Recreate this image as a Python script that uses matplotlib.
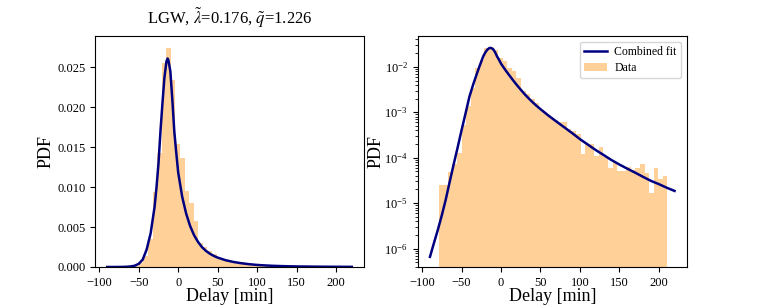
import numpy as np
import matplotlib
matplotlib.use("Agg")
import matplotlib.pyplot as plt

plt.rcParams['font.family'] = ['Liberation Serif', 'DejaVu Serif']
plt.rcParams['mathtext.fontset'] = 'stix'

# histogram: bin edges (min) and density values
bin_edges = np.linspace(-79, 211, 51)
hist_density = [
    2.48e-5, 2.48e-5, 4.9e-5, 7.4e-5, 1.28e-4, 5.2e-4, 1.4e-3, 3.5e-3, 9.4e-3, 1.43e-2,
    2.55e-2, 2.74e-2, 2.34e-2, 1.54e-2, 1.36e-2, 9.5e-3, 8.0e-3, 5.7e-3, 3.0e-3, 2.5e-3,
    2.0e-3, 1.6e-3, 1.15e-3, 9.6e-4, 8.0e-4, 6.8e-4, 6.0e-4, 6.1e-4, 4.2e-4, 3.9e-4,
    3.3e-4, 1.23e-4, 2.0e-4, 2.0e-4, 1.1e-4, 1.7e-4, 1.03e-4, 6.0e-5, 8.0e-5, 5.0e-5,
    5.0e-5, 6.3e-5, 5.3e-5, 5.8e-5, 7.3e-5, 4.7e-5, 1.65e-5, 5.8e-5, 3.4e-5, 4.0e-5,
]

# combined fit curve
fit_x = [-90, -85, -80, -75, -70, -65, -60, -55, -50, -45, -40, -35, -30, -27.5, -25,
         -22.5, -20, -17.5, -15, -13.5, -12.5, -10, -7.5, -5, -2.5, 0, 5, 10, 15, 20,
         25, 30, 35, 40, 45, 50, 60, 70, 80, 90, 100, 110, 120, 130, 140, 150, 160,
         170, 180, 190, 200, 210, 220]
fit_y = [6.6e-7, 1.32e-6, 2.6e-6, 5.4e-6, 1.2e-5, 2.95e-5, 7.1e-5, 1.66e-4, 4.0e-4,
         9.3e-4, 2.2e-3, 4.2e-3, 7.5e-3, 1.0e-2, 1.3e-2,
         1.7e-2, 2.05e-2, 2.37e-2, 2.57e-2, 2.61e-2, 2.59e-2, 2.45e-2, 2.1e-2, 1.7e-2,
         1.43e-2, 1.18e-2, 8.8e-3, 6.7e-3, 5.15e-3, 4.0e-3,
         3.15e-3, 2.5e-3, 2.03e-3, 1.67e-3, 1.39e-3, 1.175e-3, 8.5e-4, 6.3e-4, 4.7e-4,
         3.5e-4, 2.57e-4, 1.95e-4, 1.48e-4, 1.15e-4, 8.9e-5, 7.1e-5, 5.75e-5,
         4.7e-5, 3.8e-5, 3.1e-5, 2.63e-5, 2.19e-5, 1.86e-5]

title = r"LGW, $\tilde{\lambda}$=0.176, $\tilde{q}$=1.226"
bar_color = '#ff8c00'
line_color = 'navy'

fig = plt.figure(figsize=(7.63, 3.05), dpi=100)
ax1 = fig.add_axes([0.1245, 0.1246, 0.3526, 0.757])
ax2 = fig.add_axes([0.5475, 0.1246, 0.3526, 0.757])

widths = np.diff(bin_edges)
for ax in (ax1, ax2):
    ax.bar(bin_edges[:-1], hist_density, width=widths, align='edge',
           color=bar_color, alpha=0.4, linewidth=0, label='Data')
    ax.plot(fit_x, fit_y, color=line_color, lw=1.8, label='Combined fit')
    ax.set_xlabel('Delay [min]', fontsize=13, labelpad=-0.5)
    ax.tick_params(labelsize=9)
    ax.set_xticks([-100, -50, 0, 50, 100, 150, 200])

ax1.set_ylabel('PDF', fontsize=13, labelpad=1.5)
ax2.set_ylabel('PDF', fontsize=13, labelpad=0)

ax1.set_ylim(0, 0.0289)
ax1.set_title(title, fontsize=12, pad=9)

ax2.set_yscale('log')
ax2.set_ylim(3.94e-7, 0.0474)
ax2.legend(loc='upper right', fontsize=8.5, handlelength=2.0, handletextpad=0.6,
           borderaxespad=0.5, borderpad=0.35, labelspacing=0.35)

fig.savefig('out.png', dpi=100)
